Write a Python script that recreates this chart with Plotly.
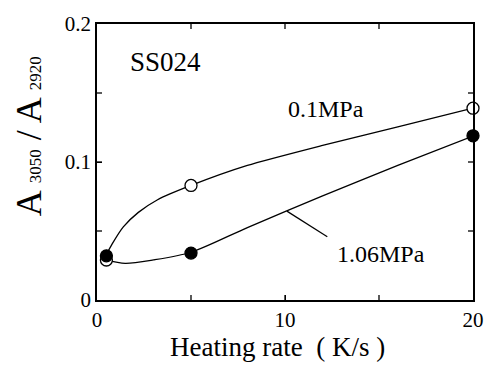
import plotly.graph_objects as go

# Measured points
rate_pts = [0.5, 5, 20]
ratio_01mpa = [0.029, 0.083, 0.139]     # open circles (0.1 MPa)
ratio_106mpa = [0.032, 0.034, 0.119]    # filled circles (1.06 MPa)

# Fitted curves
curve_01_x = [0.47, 0.8, 1.4, 2.2, 3.2, 5.0, 8.0, 12.0, 16.0, 20.0]
curve_01_y = [0.0322, 0.0405, 0.0530, 0.0635, 0.0725, 0.0830, 0.0975, 0.1120, 0.1255, 0.139]
curve_106_x = [0.47, 1.5, 3.0, 5.0, 8.0, 12.0, 16.0, 20.0]
curve_106_y = [0.0291, 0.0265, 0.0290, 0.0346, 0.0525, 0.0755, 0.0975, 0.1188]

x_ticks = [0, 10, 20]
x_tick_text = ["0", "10", "20"]
x_all_ticks = [0, 5, 10, 15, 20]
y_ticks = [0, 0.1, 0.2]
y_tick_text = ["0", "0.1", "0.2"]
y_all_ticks = [0, 0.05, 0.1, 0.15, 0.2]

# Leader line for the 1.06MPa label (data coords)
leader_x = [10.1, 12.25]
leader_y = [0.0644, 0.0458]

FONT = "Liberation Serif, Times New Roman, Times, serif"
TICKLEN = 5

fig = go.Figure()
fig.add_trace(go.Scatter(x=curve_01_x, y=curve_01_y, mode="lines",
                         line=dict(color="black", width=1.3, shape="spline", smoothing=0.6),
                         hoverinfo="skip"))
fig.add_trace(go.Scatter(x=curve_106_x, y=curve_106_y, mode="lines",
                         line=dict(color="black", width=1.3, shape="spline", smoothing=0.8),
                         hoverinfo="skip"))
fig.add_trace(go.Scatter(x=leader_x, y=leader_y, mode="lines",
                         line=dict(color="black", width=1.2), hoverinfo="skip"))
fig.add_trace(go.Scatter(x=rate_pts, y=ratio_01mpa, mode="markers",
                         marker=dict(symbol="circle", size=12, color="white",
                                     line=dict(color="black", width=1.3)),
                         cliponaxis=False))
fig.add_trace(go.Scatter(x=rate_pts, y=ratio_106mpa, mode="markers",
                         marker=dict(symbol="circle", size=12, color="black",
                                     line=dict(color="black", width=1.3)),
                         cliponaxis=False))

axis_common = dict(showgrid=False, zeroline=False, showline=True, linecolor="black",
                   linewidth=1.5, mirror=True, ticks="inside", ticklen=TICKLEN,
                   tickwidth=1.3, tickcolor="black",
                   tickfont=dict(family=FONT, size=21, color="black"))

fig.update_xaxes(range=[0, 20], tickvals=x_ticks, ticktext=x_tick_text, **axis_common)
fig.update_yaxes(range=[0, 0.2], tickvals=y_ticks, ticktext=y_tick_text, **axis_common)

# Tick marks on all four sides, drawn as pixel-length shapes at the tick values
tick_line = dict(color="black", width=1.3)
for v in x_all_ticks[1:-1]:
    for anchor, sign in ((0, 1), (1, -1)):
        fig.add_shape(type="line", xref="x", yref="paper", x0=v, x1=v,
                      ysizemode="pixel", yanchor=anchor, y0=0, y1=sign * TICKLEN,
                      line=tick_line, layer="above")
for v in y_all_ticks[1:-1]:
    for anchor, sign in ((0, 1), (1, -1)):
        fig.add_shape(type="line", yref="y", xref="paper", y0=v, y1=v,
                      xsizemode="pixel", xanchor=anchor, x0=0, x1=sign * TICKLEN,
                      line=tick_line, layer="above")

L, R, T, B = 97, 17, 21, 65
W, H = 496, 365
pw, ph = W - L - R, H - T - B

def px(xp):
    return (xp - L) / pw

def py(yp):
    return (H - B - yp) / ph

annots = [
    dict(text="SS024", x=px(167), y=py(59), size=27),
    dict(text="0.1MPa", x=px(330), y=py(106.5), size=24),
    dict(text="1.06MPa", x=px(386), y=py(254), size=24),
    dict(text="Heating rate  ( K/s )", x=px(280), y=py(348), size=27),
]
for a in annots:
    fig.add_annotation(text=a["text"], x=a["x"], y=a["y"], xref="paper", yref="paper",
                       showarrow=False, xanchor="center", yanchor="middle",
                       font=dict(family=FONT, size=a["size"], color="black"))

fig.add_annotation(
    text="A <span style='font-size:17px'>3050</span> / A <span style='font-size:17px'>2920</span>",
    x=px(28), y=py(134.5), xref="paper", yref="paper", showarrow=False,
    xanchor="center", yanchor="middle", textangle=-90,
    font=dict(family=FONT, size=36, color="black"))

fig.update_layout(width=W, height=H, margin=dict(l=L, r=R, t=T, b=B),
                  paper_bgcolor="white", plot_bgcolor="white", showlegend=False,
                  font=dict(family=FONT, color="black"))

fig.write_html("out.html")
